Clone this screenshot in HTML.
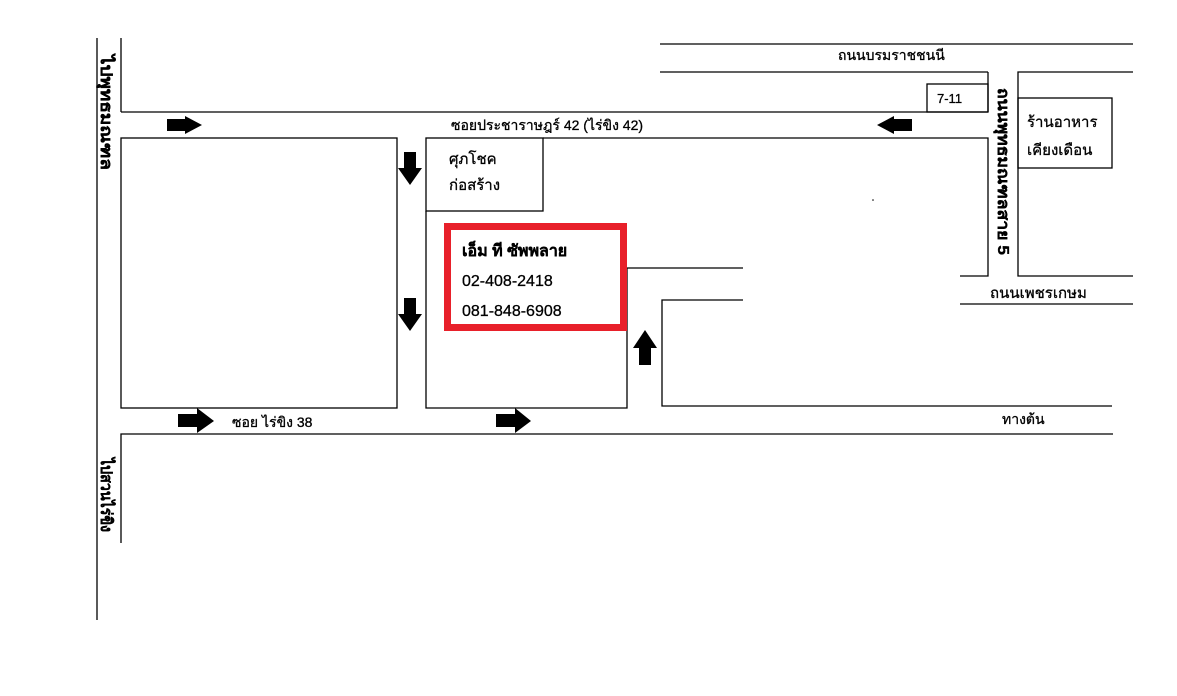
<!DOCTYPE html>
<html><head><meta charset="utf-8"><style>
html,body{margin:0;padding:0;background:#fff;width:1177px;height:696px;overflow:hidden}
text{font-family:"Liberation Sans","Noto Sans CJK SC",sans-serif;fill:#000}
</style></head><body>
<svg width="1177" height="696" viewBox="0 0 1177 696" xmlns="http://www.w3.org/2000/svg">
<g stroke="#000" stroke-width="1.3" fill="none">
<line x1="97" y1="38" x2="97" y2="620"/>
<line x1="121" y1="38" x2="121" y2="112"/>
<line x1="121" y1="112" x2="988" y2="112"/>
<line x1="660" y1="44" x2="1133" y2="44"/>
<line x1="660" y1="72" x2="988" y2="72"/>
<line x1="988" y1="72" x2="988" y2="112"/>
<rect x="927" y="84" width="61" height="28"/>
<rect x="121" y="138" width="276" height="270"/>
<rect x="426" y="138" width="117" height="73"/>
<polyline points="543,138 988,138 988,276 960,276"/>
<polyline points="426,211 426,408 627,408 627,268 743,268"/>
<polyline points="743,300 662,300 662,406 1112,406"/>
<polyline points="1133,72 1018,72 1018,276 1133,276"/>
<rect x="1018" y="98" width="94" height="70"/>
<line x1="960" y1="304" x2="1133" y2="304"/>
<polyline points="1113,434 121,434 121,543"/>
</g>
<rect x="447.5" y="226.5" width="176" height="101" fill="none" stroke="#e8202a" stroke-width="7"/>
<g fill="#000">
<polygon points="167,119 185,119 185,116 202,125 185,134 185,131 167,131"/>
<polygon points="178,414 197,414 197,408 214,421 197,433 197,427 178,427"/>
<polygon points="496,414 515,414 515,408 531,421 515,433 515,427 496,427"/>
<polygon points="912,119 894,119 894,116 877,125 894,134 894,131 912,131"/>
<polygon points="404,152 416,152 416,168 422,168 410,185 398,168 404,168"/>
<polygon points="404,298 416,298 416,314 422,314 410,331 398,314 404,314"/>
<polygon points="639,365 651,365 651,348 657,348 645,330 633,348 639,348"/>
</g>
<g font-size="14" stroke="#000" stroke-width="0.3">
<text x="838" y="60">ถนนบรมราชชนนี</text>
<text x="937" y="103" font-size="13">7-11</text>
<text x="451" y="130">ซอยประชาราษฎร์ 42 (ไร่ขิง 42)</text>
<text x="449" y="164" font-size="15">ศุภโชค</text>
<text x="449" y="190" font-size="15">ก่อสร้าง</text>
<text x="462" y="256" font-size="16" font-weight="bold">เอ็ม ที ซัพพลาย</text>
<text x="462" y="286" font-size="16">02-408-2418</text>
<text x="462" y="316" font-size="16">081-848-6908</text>
<text x="1027" y="127" font-size="15">ร้านอาหาร</text>
<text x="1027" y="155" font-size="15">เคียงเดือน</text>
<text x="990" y="298" font-size="15">ถนนเพชรเกษม</text>
<text x="232" y="427">ซอย ไร่ขิง 38</text>
<text x="1002" y="424">ทางต้น</text>
<text transform="translate(101,55) rotate(90)" font-size="16" font-weight="bold" textLength="115" lengthAdjust="spacingAndGlyphs">ไปพุทธมณฑล</text>
<text transform="translate(101,458) rotate(90)" font-size="16" font-weight="bold" textLength="74" lengthAdjust="spacingAndGlyphs">ไปสวนไร่ขิง</text>
<text transform="translate(998,88) rotate(90)" font-size="16" font-weight="bold" textLength="167" lengthAdjust="spacingAndGlyphs">ถนนพุทธมณฑลสาย 5</text>
</g>
<circle cx="873" cy="200" r="0.8" fill="#000"/>
</svg>
</body></html>
